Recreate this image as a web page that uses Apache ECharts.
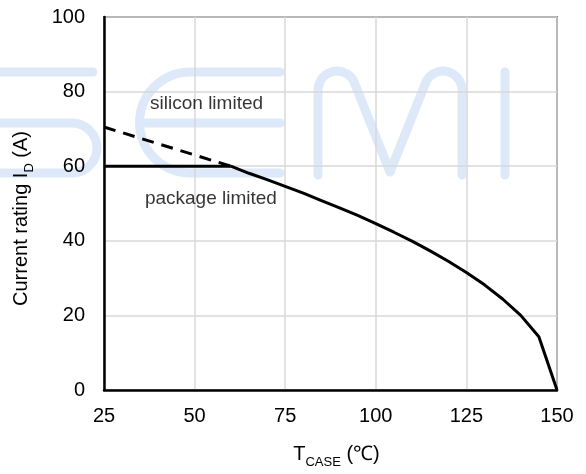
<!DOCTYPE html>
<html>
<head>
<meta charset="utf-8">
<script src="https://cdn.jsdelivr.net/npm/echarts@6/dist/echarts.min.js"></script>
<style>
html,body{margin:0;padding:0;background:#fff;}
#chart{width:586px;height:474px;}
</style>
</head>
<body>
<div id="chart"></div>
<script>
// ---- data ----
var xTicks = [25, 50, 75, 100, 125, 150];
var yTicks = [0, 20, 40, 60, 80, 100];
var packageT = [25, 60];
var packageI = [60, 60];
var siliconT = [25, 60];
var siliconI = [70.5, 60];
var derateT = [60, 65, 70, 75, 80, 85, 90, 95, 100, 105, 110, 115, 120, 125, 130, 135, 140, 145, 150];
var derateI = [60, 58.1, 56.4, 54.6, 52.8, 50.8, 48.8, 46.8, 44.6, 42.3, 39.9, 37.3, 34.5, 31.5, 28.2, 24.4, 20.0, 14.3, 0];
var noteLabels = ['silicon limited', 'package limited'];
var noteT = [53.3, 54.5];
var noteI = [76.7, 51.2];

function pairs(xs, ys) { return xs.map(function (x, i) { return [x, ys[i]]; }); }

var FONT = '"Liberation Sans", Arial, sans-serif';
var wmColor = '#dde9f8';
// watermark helpers (decoration only)
function arc(cx, cy, r, a0, a1, n) {
  var pts = [];
  for (var k = 0; k <= n; k++) {
    var a = (a0 + (a1 - a0) * k / n) * Math.PI / 180;
    pts.push([cx + r * Math.cos(a), cy + r * Math.sin(a)]);
  }
  return pts;
}
function wm(points) {
  return { type: 'polyline', silent: true, z: -10,
    shape: { points: points },
    style: { fill: null, stroke: wmColor, lineWidth: 9, lineCap: 'round', lineJoin: 'round' } };
}
var sMid = [[-20, 123], [72, 123]].concat(arc(72, 148, 25, -90, 90, 16)).concat([[-20, 173]]);
var eC = [[280, 72], [190, 72]].concat(arc(190, 122.5, 50.5, 270, 90, 30)).concat([[280, 173]]);
var mPath = [[318, 175], [318, 90]].concat(arc(337, 90, 19, 180, 330, 10)).concat([[390, 172]])
  .concat(arc(443, 90, 19, 210, 360, 10)).concat([[462, 175]]);

var richName = {
  t: { fontSize: 20, fontFamily: FONT, color: '#000', lineHeight: 21, padding: [0, 0, 5, 0], verticalAlign: 'bottom' },
  s: { fontSize: 13, fontFamily: FONT, color: '#000', lineHeight: 14, verticalAlign: 'bottom' }
};

var chart = echarts.init(document.getElementById('chart'));
chart.setOption({
  animation: false,
  backgroundColor: '#fff',
  graphic: [
    wm([[-20, 72], [93, 72]]),
    wm(sMid),
    wm(eC),
    wm([[140, 123], [280, 123]]),
    wm(mPath),
    wm([[505, 72], [505, 175]])
  ],
  grid: { left: 104, right: 29, top: 17, bottom: 83, show: true, borderColor: '#222', borderWidth: 1.5, backgroundColor: 'transparent' },
  xAxis: {
    type: 'value', min: xTicks[0], max: xTicks[xTicks.length - 1], interval: 25,
    name: '{t|T}{s|CASE}{t| (℃)}', nameLocation: 'middle', nameGap: 58,
    nameTextStyle: { rich: richName, padding: [0, 0, 0, 12] },
    axisLine: { show: true, lineStyle: { color: '#000', width: 2.5 } },
    axisTick: { show: false },
    axisLabel: { fontSize: 20, fontFamily: FONT, color: '#000', margin: 16 },
    splitLine: { show: true, lineStyle: { color: '#d9d9d9', width: 1.5 } }
  },
  yAxis: {
    type: 'value', min: yTicks[0], max: yTicks[yTicks.length - 1], interval: 20,
    name: '{t|Current rating I}{s|D}{t| (A)}', nameLocation: 'middle', nameGap: 68, nameRotate: 90,
    nameTextStyle: { rich: richName, padding: [0, 30, 0, 0] },
    axisLine: { show: true, lineStyle: { color: '#000', width: 2.5 } },
    axisTick: { show: false },
    axisLabel: { fontSize: 20, fontFamily: FONT, color: '#000', margin: 19 },
    splitLine: { show: true, lineStyle: { color: '#d9d9d9', width: 1.5 } }
  },
  series: [
    { type: 'line', data: pairs(siliconT, siliconI), symbol: 'none', z: 3,
      lineStyle: { color: '#000', width: 3, type: [12, 8] } },
    { type: 'line', data: pairs(packageT, packageI), symbol: 'none', z: 4,
      lineStyle: { color: '#000', width: 3 } },
    { type: 'line', data: pairs(derateT, derateI), symbol: 'none', z: 4,
      lineStyle: { color: '#000', width: 3 } },
    { type: 'scatter', symbolSize: 0, silent: true, z: 5,
      data: pairs(noteT, noteI).map(function (p, i) { return { value: p, name: noteLabels[i] }; }),
      label: { show: true, position: 'inside', formatter: '{b}', fontSize: 19, fontFamily: FONT, color: '#000' } }
  ]
});
</script>
</body>
</html>
